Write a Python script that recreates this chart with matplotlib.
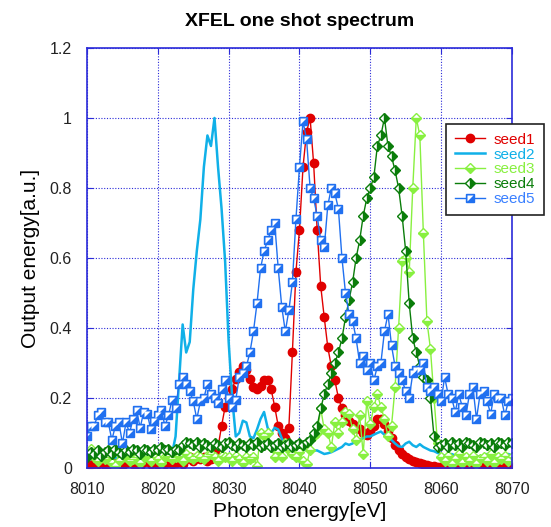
import matplotlib
matplotlib.use("Agg")
import matplotlib.pyplot as plt
import numpy as np
from matplotlib.path import Path

# photon energy grid, 0.5 eV step
energy = np.arange(8010, 8070.01, 0.5)

seed1 = [
    0.010, 0.005, 0.015, 0.010, 0.020, 0.008, 0.012, 0.005, 0.018, 0.010,
    0.006, 0.015, 0.020, 0.010, 0.012, 0.006, 0.018, 0.020, 0.010, 0.015,
    0.008, 0.020, 0.012, 0.018, 0.010, 0.015, 0.020, 0.012, 0.025, 0.030,
    0.020, 0.030, 0.025, 0.030, 0.020, 0.025, 0.040, 0.060, 0.120, 0.175,
    0.200, 0.225, 0.255, 0.275, 0.290, 0.280, 0.255, 0.230, 0.225, 0.235,
    0.250, 0.250, 0.225, 0.175, 0.120, 0.100, 0.085, 0.115, 0.330, 0.560,
    0.680, 0.860, 0.960, 1.000, 0.870, 0.680, 0.520, 0.430, 0.345, 0.290,
    0.250, 0.200, 0.170, 0.150, 0.135, 0.125, 0.115, 0.110, 0.100, 0.093,
    0.105, 0.120, 0.140, 0.140, 0.125, 0.105, 0.085, 0.065, 0.050, 0.040,
    0.032, 0.025, 0.020, 0.016, 0.013, 0.010, 0.008, 0.006, 0.005, 0.004,
    0.004, 0.005, 0.008, 0.004, 0.010, 0.006, 0.012, 0.005, 0.008, 0.010,
    0.004, 0.009, 0.006, 0.011, 0.005, 0.008, 0.010, 0.006, 0.012, 0.008,
    0.006,
]

seed2 = [
    0.030, 0.025, 0.035, 0.030, 0.020, 0.030, 0.035, 0.025, 0.030, 0.020,
    0.030, 0.035, 0.025, 0.030, 0.020, 0.030, 0.035, 0.030, 0.025, 0.030,
    0.035, 0.030, 0.025, 0.030, 0.040, 0.090, 0.250, 0.410, 0.330, 0.360,
    0.510, 0.620, 0.710, 0.860, 0.950, 0.920, 1.000, 0.860, 0.740, 0.590,
    0.360, 0.200, 0.090, 0.100, 0.135, 0.130, 0.090, 0.085, 0.110, 0.140,
    0.160, 0.115, 0.100, 0.115, 0.110, 0.085, 0.065, 0.060, 0.055, 0.060,
    0.050, 0.055, 0.050, 0.045, 0.050, 0.050, 0.045, 0.040, 0.042, 0.045,
    0.050, 0.055, 0.060, 0.070, 0.066, 0.070, 0.078, 0.080, 0.085, 0.090,
    0.090, 0.095, 0.100, 0.104, 0.095, 0.088, 0.080, 0.070, 0.062, 0.060,
    0.070, 0.075, 0.065, 0.060, 0.068, 0.060, 0.055, 0.050, 0.048, 0.043,
    0.040, 0.035, 0.030, 0.040, 0.035, 0.030, 0.038, 0.032, 0.030, 0.040,
    0.035, 0.030, 0.036, 0.040, 0.032, 0.030, 0.038, 0.035, 0.030, 0.040,
    0.035,
]

seed3 = [
    0.040, 0.055, 0.030, 0.020, 0.035, 0.025, 0.030, 0.015, 0.005, 0.020,
    0.030, 0.035, 0.020, 0.025, 0.030, 0.015, 0.030, 0.035, 0.020, 0.030,
    0.025, 0.015, 0.030, 0.035, 0.025, 0.030, 0.035, 0.020, 0.040, 0.030,
    0.025, 0.035, 0.030, 0.025, 0.035, 0.040, 0.030, 0.020, 0.035, 0.030,
    0.030, 0.020, 0.035, 0.025, 0.015, 0.030, 0.025, 0.030, 0.005, 0.100,
    0.090, 0.100, 0.060, 0.030, 0.045, 0.030, 0.070, 0.050, 0.040, 0.030,
    0.045, 0.020, 0.010, 0.050, 0.090, 0.100, 0.170, 0.110, 0.100, 0.060,
    0.130, 0.100, 0.130, 0.160, 0.155, 0.110, 0.080, 0.150, 0.040, 0.190,
    0.125, 0.175, 0.210, 0.175, 0.140, 0.090, 0.120, 0.230, 0.400, 0.590,
    0.600, 0.560, 0.800, 1.000, 0.950, 0.670, 0.420, 0.340, 0.200, 0.070,
    0.030, 0.020, 0.035, 0.010, 0.025, 0.040, 0.015, 0.030, 0.020, 0.035,
    0.010, 0.025, 0.030, 0.020, 0.040, 0.015, 0.030, 0.025, 0.035, 0.020,
    0.030,
]

seed4 = [
    0.030, 0.045, 0.040, 0.050, 0.035, 0.045, 0.050, 0.040, 0.055, 0.045,
    0.040, 0.050, 0.045, 0.055, 0.050, 0.040, 0.055, 0.050, 0.045, 0.055,
    0.050, 0.060, 0.050, 0.055, 0.045, 0.055, 0.050, 0.065, 0.075, 0.070,
    0.065, 0.075, 0.060, 0.070, 0.065, 0.060, 0.070, 0.065, 0.060, 0.070,
    0.075, 0.065, 0.060, 0.070, 0.065, 0.060, 0.070, 0.065, 0.075, 0.060,
    0.065, 0.070, 0.060, 0.065, 0.070, 0.060, 0.065, 0.070, 0.060, 0.065,
    0.070, 0.065, 0.075, 0.080, 0.100, 0.120, 0.170, 0.210, 0.240, 0.270,
    0.300, 0.330, 0.370, 0.430, 0.480, 0.530, 0.600, 0.650, 0.720, 0.770,
    0.800, 0.830, 0.920, 0.950, 1.000, 0.920, 0.890, 0.850, 0.800, 0.720,
    0.620, 0.470, 0.370, 0.330, 0.290, 0.260, 0.250, 0.200, 0.090, 0.060,
    0.065, 0.070, 0.060, 0.075, 0.065, 0.070, 0.060, 0.075, 0.070, 0.065,
    0.060, 0.075, 0.070, 0.065, 0.070, 0.060, 0.075, 0.070, 0.065, 0.075,
    0.070,
]

seed5 = [
    0.090, 0.120, 0.120, 0.150, 0.160, 0.130, 0.130, 0.080, 0.120, 0.130,
    0.070, 0.130, 0.100, 0.140, 0.165, 0.115, 0.160, 0.155, 0.110, 0.135,
    0.150, 0.165, 0.120, 0.150, 0.195, 0.170, 0.240, 0.260, 0.240, 0.220,
    0.190, 0.140, 0.190, 0.200, 0.240, 0.210, 0.200, 0.185, 0.225, 0.250,
    0.200, 0.175, 0.195, 0.260, 0.270, 0.290, 0.330, 0.390, 0.470, 0.570,
    0.620, 0.650, 0.680, 0.700, 0.570, 0.460, 0.390, 0.450, 0.530, 0.710,
    0.860, 0.990, 0.940, 0.800, 0.770, 0.720, 0.650, 0.630, 0.750, 0.800,
    0.785, 0.740, 0.600, 0.500, 0.440, 0.420, 0.370, 0.300, 0.320, 0.280,
    0.300, 0.250, 0.290, 0.300, 0.390, 0.440, 0.350, 0.290, 0.270, 0.250,
    0.220, 0.200, 0.270, 0.280, 0.280, 0.300, 0.230, 0.220, 0.230, 0.210,
    0.190, 0.260, 0.210, 0.200, 0.160, 0.210, 0.175, 0.150, 0.210, 0.230,
    0.140, 0.210, 0.220, 0.190, 0.155, 0.210, 0.200, 0.200, 0.150, 0.190,
    0.200,
]

series_labels = ["seed1", "seed2", "seed3", "seed4", "seed5"]
x_ticks = [8010, 8020, 8030, 8040, 8050, 8060, 8070]
y_ticks = [0, 0.2, 0.4, 0.6, 0.8, 1.0, 1.2]
y_tick_labels = ["0", "0.2", "0.4", "0.6", "0.8", "1", "1.2"]

RED = "#e00000"
CYAN = "#10b0e8"
LIGHT_GREEN = "#88f040"
DARK_GREEN = "#0a7d0a"
BLUE = "#2070f0"
FRAME = "#2b2bd9"


def main():
    plt.rcParams["font.family"] = ["Liberation Sans", "DejaVu Sans"]

    fig = plt.figure(figsize=(5.51, 5.27), dpi=100)
    ax = fig.add_axes([0.158, 0.112, 0.771, 0.797])

    l1, = ax.plot(energy, seed1, color=RED, lw=1.0, marker="o", ms=6,
                  mec=RED, mfc=RED, label=series_labels[0])
    l2, = ax.plot(energy, seed2, color=CYAN, lw=1.8, label=series_labels[1])
    l3, = ax.plot(energy, seed3, color=LIGHT_GREEN, lw=1.0, marker="D", ms=5.2,
                  mec=LIGHT_GREEN, mfc=LIGHT_GREEN, fillstyle="bottom",
                  markerfacecoloralt="white", label=series_labels[2])
    l4, = ax.plot(energy, seed4, color=DARK_GREEN, lw=1.0, marker="D", ms=5.2,
                  mec=DARK_GREEN, mfc=DARK_GREEN, fillstyle="right",
                  markerfacecoloralt="white", label=series_labels[3])
    l5, = ax.plot(energy, seed5, color=BLUE, lw=1.0, marker="s", ms=6.2,
                  mec=BLUE, mfc=BLUE, label=series_labels[4])
    # white upper-left corner on the squares
    tri = Path([(-1, -1), (-1, 1), (1, 1), (-1, -1)],
               [Path.MOVETO, Path.LINETO, Path.LINETO, Path.CLOSEPOLY])
    l5w, = ax.plot(energy, seed5, ls="none", marker=tri, ms=4.2,
                   mfc="white", mec="none")

    ax.set_xlim(8010, 8070)
    ax.set_ylim(0, 1.2)
    ax.set_xticks(x_ticks)
    ax.set_yticks(y_ticks)
    ax.set_yticklabels(y_tick_labels)

    ax.grid(True, color=FRAME, ls=(0, (1, 1.5)), lw=0.8)
    for side in ax.spines.values():
        side.set_color(FRAME)
        side.set_linewidth(1.2)
    ax.tick_params(direction="in", top=True, right=True, length=4,
                   color=FRAME, labelsize=11.5, labelcolor="#222222")
    ax.tick_params(axis="x", pad=10)
    ax.tick_params(axis="y", pad=11)

    ax.set_xlabel("Photon energy[eV]", fontsize=15, labelpad=4)
    ax.set_ylabel("Output energy[a.u.]", fontsize=15, labelpad=7)
    ax.set_title("XFEL one shot spectrum", fontsize=14, fontweight="bold", pad=16)

    leg = ax.legend([l1, l2, l3, l4, (l5, l5w)], series_labels,
                    loc="upper left", bbox_to_anchor=(0.826, 0.838),
                    fontsize=11, numpoints=1, handlelength=2.0,
                    handletextpad=0.55, labelspacing=0.05, borderpad=0.6,
                    fancybox=False, framealpha=1, edgecolor="#222222")
    leg.get_frame().set_linewidth(1.2)
    for text, col in zip(leg.get_texts(), [RED, CYAN, LIGHT_GREEN, DARK_GREEN, "#3a80ff"]):
        text.set_color(col)

    fig.savefig("out.png", dpi=100)
    plt.close(fig)


if __name__ == "__main__":
    main()
